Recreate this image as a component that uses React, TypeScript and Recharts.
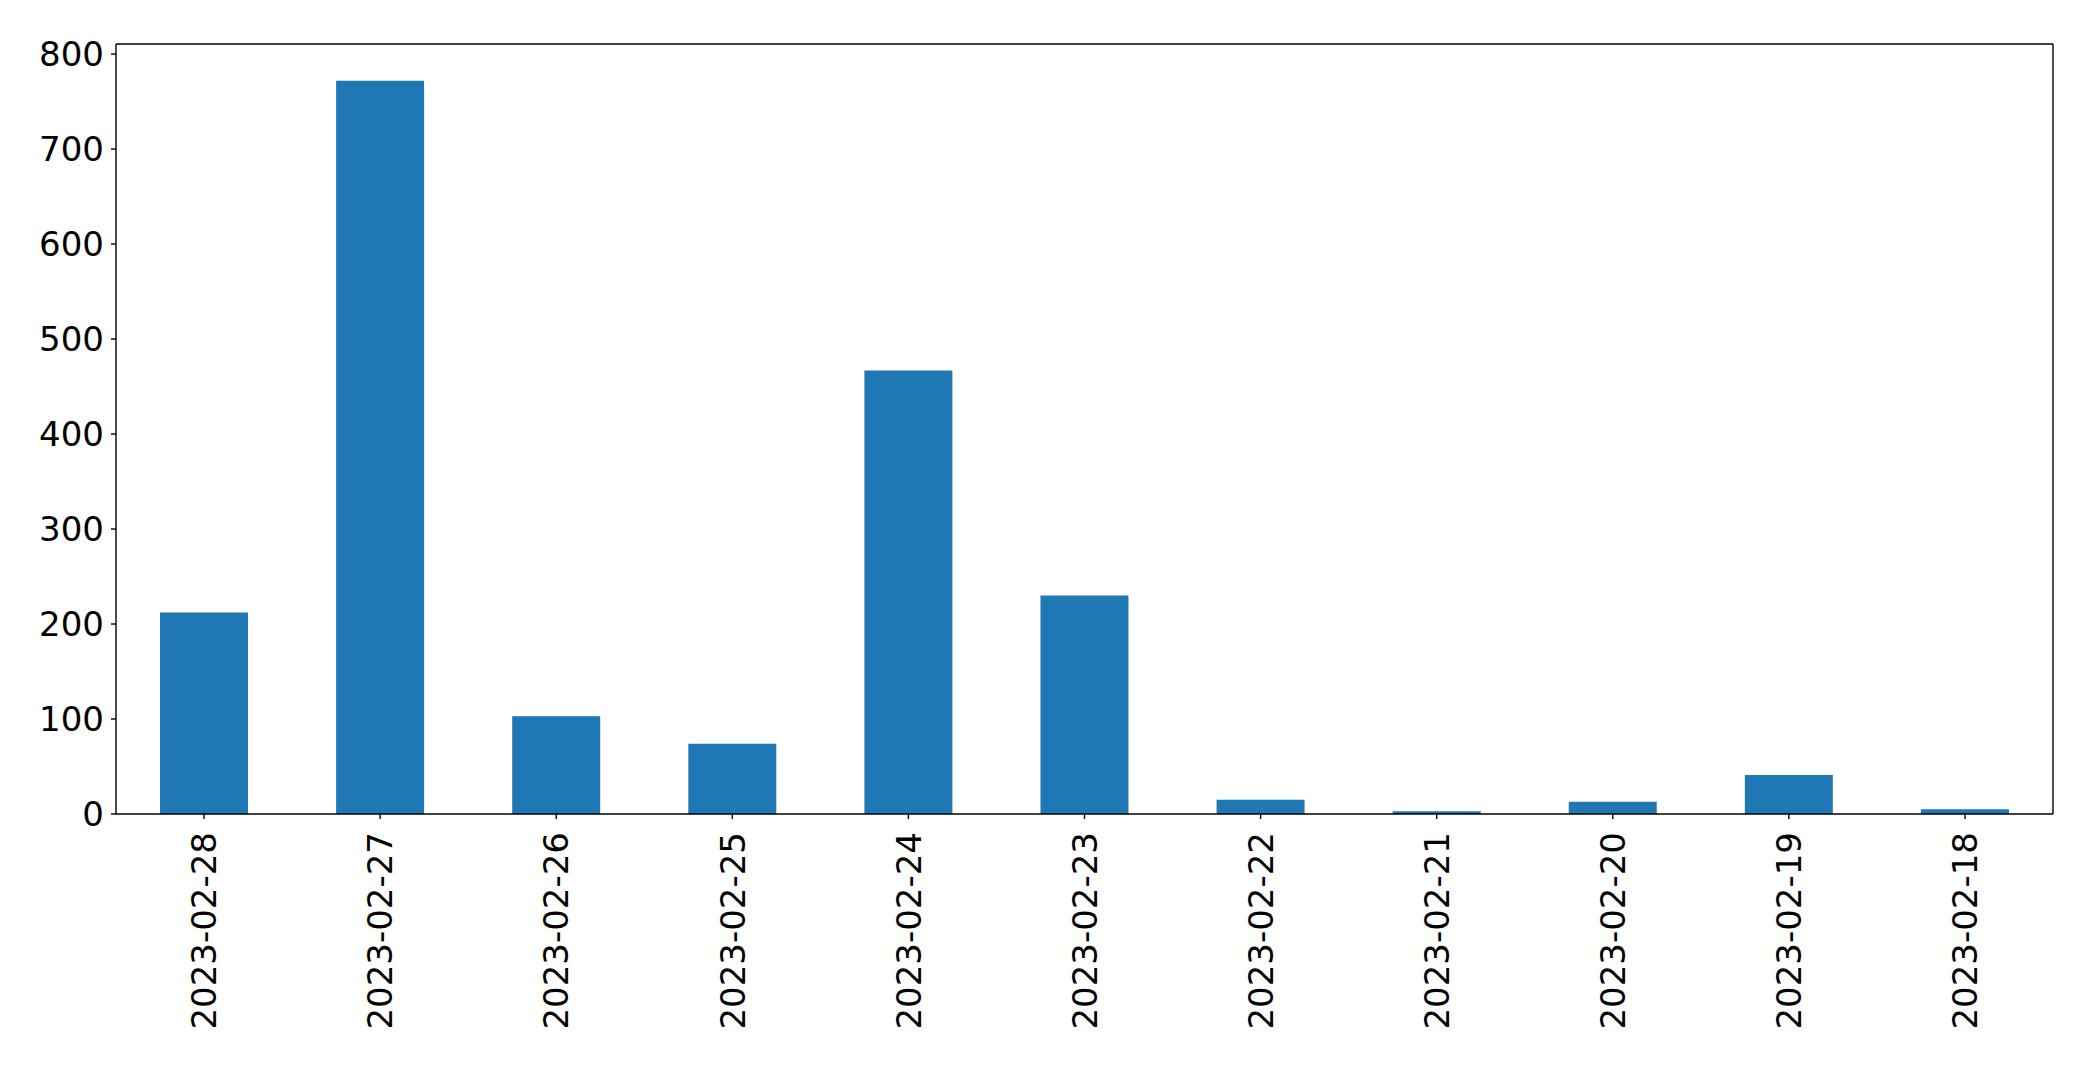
import { Bar, BarChart, CartesianGrid, XAxis, YAxis } from "recharts";

const dates = [
    "2023-02-28",
    "2023-02-27",
    "2023-02-26",
    "2023-02-25",
    "2023-02-24",
    "2023-02-23",
    "2023-02-22",
    "2023-02-21",
    "2023-02-20",
    "2023-02-19",
    "2023-02-18",
];

const counts = [212, 772, 103, 74, 467, 230, 15, 3, 13, 41, 5];

const yTicks = [0, 100, 200, 300, 400, 500, 600, 700, 800];

const data = dates.map((date, i) => ({ date, count: counts[i] }));

const FONT = "'DejaVu Sans', sans-serif";
const LINE = 1.4;

function DateTick(props: any) {
    const { x, y, payload } = props;
    return (
        <text
            x={0}
            y={0}
            transform={`translate(${x},${y + 11}) rotate(-90)`}
            textAnchor="end"
            dy="0.36em"
            fontSize={34}
            fontFamily={FONT}
            fill="#000"
        >
            {payload.value}
        </text>
    );
}

export default function App() {
    return (
        <div style={{ position: "absolute", left: 0, top: 0, background: "#fff" }}>
            <BarChart
                width={2093}
                height={1066}
                data={data}
                barCategoryGap="25%"
                margin={{ top: 44, right: 40, left: 0, bottom: 0 }}
            >
                {/* top and right frame lines */}
                <CartesianGrid
                    stroke="#000"
                    strokeWidth={LINE}
                    horizontalCoordinatesGenerator={({ offset }: any) => [offset.top]}
                    verticalCoordinatesGenerator={({ offset }: any) => [
                        offset.left + offset.width,
                    ]}
                />
                <XAxis
                    dataKey="date"
                    height={252}
                    interval={0}
                    axisLine={{ stroke: "#000", strokeWidth: LINE }}
                    tickLine={{ stroke: "#000", strokeWidth: LINE }}
                    tickSize={5}
                    tick={<DateTick />}
                />
                <YAxis
                    width={116}
                    domain={[0, 810.6]}
                    ticks={yTicks}
                    allowDataOverflow
                    axisLine={{ stroke: "#000", strokeWidth: LINE }}
                    tickLine={{ stroke: "#000", strokeWidth: LINE }}
                    tickSize={5}
                    tickMargin={7}
                    tick={{ fill: "#000", fontSize: 34, fontFamily: FONT }}
                />
                <Bar
                    dataKey="count"
                    fill="#1f77b4"
                    isAnimationActive={false}
                />
            </BarChart>
        </div>
    );
}
